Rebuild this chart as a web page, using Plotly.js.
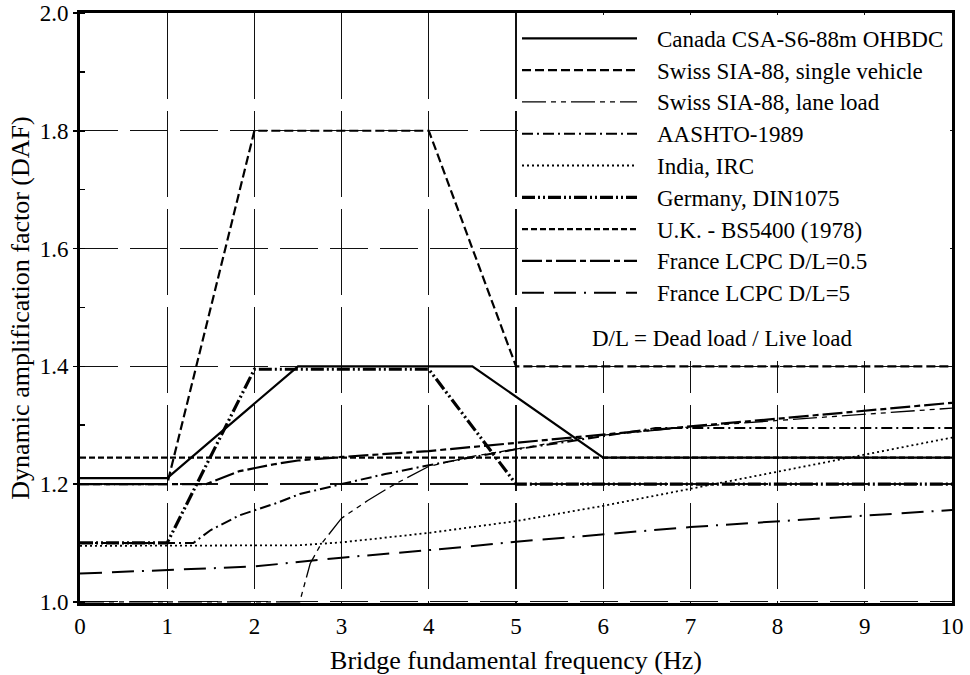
<!DOCTYPE html>
<html>
<head>
<meta charset="utf-8">
<script src="https://cdn.plot.ly/plotly-3.0.1.min.js"></script>
<style>
  html, body { margin: 0; padding: 0; background: #fff; }
  #chart { width: 970px; height: 675px; }
</style>
</head>
<body>
<div id="chart"></div>
<script>
// Dynamic amplification factor (DAF) against bridge fundamental frequency, by design code.
var seriesNames = [
  "Canada CSA-S6-88m OHBDC",
  "Swiss SIA-88, single vehicle",
  "Swiss SIA-88, lane load",
  "AASHTO-1989",
  "India, IRC",
  "Germany, DIN1075",
  "U.K. - BS5400 (1978)",
  "France LCPC D/L=0.5",
  "France LCPC D/L=5"
];

var freqCanada = [0, 1, 2.5, 4.5, 6, 10];
var dafCanada  = [1.21, 1.21, 1.40, 1.40, 1.245, 1.245];

var freqSwissSingle = [0, 1, 2, 4, 5, 10];
var dafSwissSingle  = [1.20, 1.20, 1.80, 1.80, 1.40, 1.40];

var freqSwissLane = [0, 2.52, 2.64, 2.76, 3.0, 3.3, 3.6, 4.0, 4.5, 5.0, 5.5, 6.0, 7.0, 8.0, 9.0, 10];
var dafSwissLane  = [1.0, 1.0, 1.065, 1.097, 1.142, 1.172, 1.199, 1.230, 1.247, 1.260, 1.272, 1.283, 1.297, 1.308, 1.318, 1.329];

var freqAashto = [0, 1.3, 1.5, 1.83, 2.24, 2.52, 3.0, 3.5, 4.0, 4.5, 5.0, 5.5, 6.0, 6.6, 10];
var dafAashto  = [1.10, 1.10, 1.122, 1.147, 1.167, 1.183, 1.200, 1.217, 1.232, 1.246, 1.259, 1.270, 1.281, 1.295, 1.295];

var freqIndia = [0, 2.5, 3, 4, 5, 6, 7, 8, 9, 10];
var dafIndia  = [1.095, 1.096, 1.101, 1.117, 1.137, 1.163, 1.192, 1.221, 1.250, 1.279];

var freqGermany = [0, 1, 2, 4, 5, 10];
var dafGermany  = [1.10, 1.10, 1.395, 1.395, 1.20, 1.20];

var freqUK = [0, 10];
var dafUK  = [1.245, 1.245];

var freqFrance05 = [0, 1, 1.45, 1.83, 2.24, 2.5, 3, 4, 5, 6, 7, 8, 9, 10];
var dafFrance05  = [1.20, 1.20, 1.20, 1.222, 1.234, 1.240, 1.246, 1.256, 1.270, 1.285, 1.298, 1.311, 1.325, 1.338];

var freqFrance5 = [0, 2, 3, 4.4, 5, 7, 10];
var dafFrance5  = [1.048, 1.060, 1.075, 1.093, 1.102, 1.127, 1.156];

// Line styles for each code, in the same order as seriesNames.
var styles = [
  { width: 2.2, dash: "solid" },
  { width: 2.2, dash: "9px,4px" },
  { width: 1.3, dash: "24px,5px,5px,5px,5px,5px" },
  { width: 2.0, dash: "11px,4px,2px,4px" },
  { width: 1.8, dash: "2px,3px" },
  { width: 3.2, dash: "13px,3px,2px,3px,2px,3px" },
  { width: 2.2, dash: "6px,3px" },
  { width: 2.2, dash: "20px,4px,6px,4px" },
  { width: 2.0, dash: "22px,10px,22px,8px,2px,8px" }
];

var xs = [freqCanada, freqSwissSingle, freqSwissLane, freqAashto, freqIndia,
          freqGermany, freqUK, freqFrance05, freqFrance5];
var ys = [dafCanada, dafSwissSingle, dafSwissLane, dafAashto, dafIndia,
          dafGermany, dafUK, dafFrance05, dafFrance5];

var traces = seriesNames.map(function (name, i) {
  return {
    type: "scatter",
    mode: "lines",
    name: name,
    x: xs[i],
    y: ys[i],
    line: { color: "#000", width: styles[i].width, dash: styles[i].dash },
    showlegend: false,
    hoverinfo: "skip"
  };
});

var serif = "Liberation Serif";

// Plot area geometry in pixels, used to place the hand-built key.
var plotL = 80, plotR = 18, plotT = 13, plotB = 72;
var W = 970, H = 675;
var pw = W - plotL - plotR, ph = H - plotT - plotB;
function px2x(p) { return (p - plotL) / pw; }
function py2y(p) { return (H - plotB - p) / ph; }

var shapes = [];
var annotations = [];

// White panel behind the key
shapes.push({
  type: "rect", xref: "paper", yref: "paper",
  x0: px2x(518), x1: px2x(950), y0: py2y(361), y1: py2y(15),
  fillcolor: "#fff", line: { width: 0 }, layer: "above"
});

var rowTop = 38.3, rowStep = 31.8;
seriesNames.forEach(function (name, i) {
  var py = rowTop + i * rowStep;
  shapes.push({
    type: "line", xref: "paper", yref: "paper",
    x0: px2x(522), x1: px2x(637), y0: py2y(py), y1: py2y(py),
    line: { color: "#000", width: styles[i].width, dash: styles[i].dash },
    layer: "above"
  });
  annotations.push({
    xref: "paper", yref: "paper",
    x: px2x(655), y: py2y(py + 1),
    xanchor: "left", yanchor: "middle",
    text: name, showarrow: false,
    font: { family: serif, size: 23, color: "#000" }
  });
});

annotations.push({
  xref: "paper", yref: "paper",
  x: px2x(721.7), y: py2y(339),
  xanchor: "center", yanchor: "middle",
  text: "D/L = Dead load / Live load", showarrow: false,
  font: { family: serif, size: 23, color: "#000" }
});

var layout = {
  width: W, height: H,
  margin: { l: plotL, r: plotR, t: plotT, b: plotB, pad: 0 },
  paper_bgcolor: "#fff",
  plot_bgcolor: "#fff",
  showlegend: false,
  font: { family: serif, color: "#000" },
  xaxis: {
    range: [0, 10],
    tickmode: "linear", tick0: 0, dtick: 1,
    showgrid: true, gridcolor: "#111", gridwidth: 1.3, griddash: "86px,12px",
    zeroline: false,
    showline: true, linecolor: "#000", linewidth: 3, mirror: true,
    ticks: "",
    ticklabelstandoff: 0,
    tickfont: { family: serif, size: 23, color: "#000" },
    title: { text: "Bridge fundamental frequency (Hz)", font: { family: serif, size: 26, color: "#000" }, standoff: 16 },
    automargin: false
  },
  yaxis: {
    range: [0.998, 2.0],
    tickmode: "linear", tick0: 0, dtick: 0.2, tickformat: ".1f",
    showgrid: true, gridcolor: "#111", gridwidth: 1.3, griddash: "38px,12px",
    zeroline: false,
    showline: true, linecolor: "#000", linewidth: 3, mirror: true,
    ticks: "outside", ticklen: 4, tickwidth: 1.5, tickcolor: "#000",
    ticklabelstandoff: 0,
    minor: { dtick: 0.1, tick0: 0, ticks: "inside", ticklen: 5, tickwidth: 1.5, tickcolor: "#000", showgrid: false },
    tickfont: { family: serif, size: 23, color: "#000" },
    title: { text: "Dynamic amplification factor (DAF)", font: { family: serif, size: 26, color: "#000" }, standoff: 3 },
    automargin: false
  },
  shapes: shapes,
  annotations: annotations
};

Plotly.newPlot("chart", traces, layout, { displayModeBar: false, staticPlot: true });
</script>
</body>
</html>
